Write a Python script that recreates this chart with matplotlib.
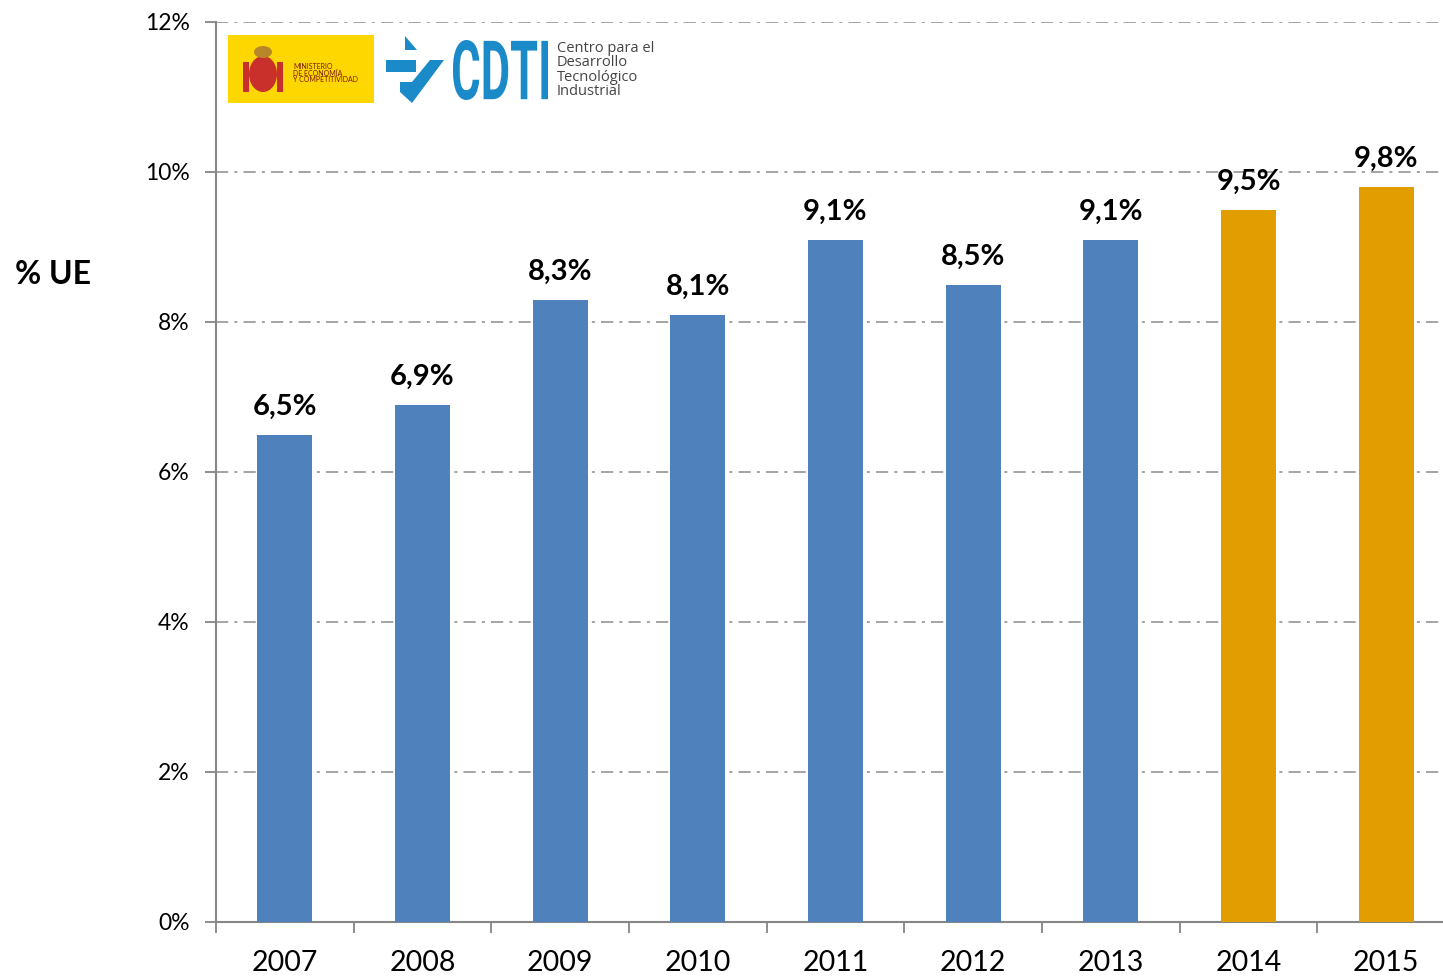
import matplotlib
matplotlib.use('Agg')
import matplotlib.pyplot as plt
from matplotlib.patches import Rectangle, Polygon, PathPatch, Ellipse
from matplotlib.textpath import TextPath
from matplotlib.font_manager import FontProperties
from matplotlib.path import Path

# %% data
years = ['2007', '2008', '2009', '2010', '2011', '2012', '2013', '2014', '2015']
values = [6.5, 6.9, 8.3, 8.1, 9.1, 8.5, 9.1, 9.5, 9.8]
labels = ['6,5%', '6,9%', '8,3%', '8,1%', '9,1%', '8,5%', '9,1%', '9,5%', '9,8%']
colors = ['#4f81bd'] * 7 + ['#e29e00'] * 2
y_ticks = [0, 2, 4, 6, 8, 10, 12]

plt.rcParams['font.family'] = ['Lato', 'DejaVu Sans']

W, H = 1443, 977
fig = plt.figure(figsize=(W / 100, H / 100), dpi=100)
ax = fig.add_axes([216 / W, 1 - 922 / H, (1455 - 216) / W, (922 - 22) / H])

x = list(range(len(years)))
ax.bar(x, values, width=0.40, color=colors, zorder=3)
for xi, v, lab in zip(x, values, labels):
    ax.text(xi, v + 0.2, lab, ha='center', va='bottom', fontsize=21,
            fontweight='bold', color='black')

ax.set_xlim(-0.5, len(years) - 0.5)
ax.set_ylim(0, 12)
ax.set_yticks(y_ticks)
ax.set_yticklabels([f'{t}%' for t in y_ticks], fontsize=16.5)
ax.yaxis.grid(True, linestyle=(0, (8, 4, 2, 4)), color='#8c8c8c', linewidth=1.1, zorder=0)

# year labels centred, ticks on category borders
ax.set_xticks([i + 0.5 for i in range(-1, len(years))])
ax.set_xticklabels([])
ax.set_xticks(x, minor=True)
ax.set_xticklabels(years, minor=True, fontsize=20.5)
ax.tick_params(axis='x', which='minor', length=0, pad=20)
ax.tick_params(axis='x', which='major', length=8, color='#868686', width=1.3, direction='out')
ax.tick_params(axis='y', length=8, color='#868686', width=1.3, direction='out', pad=11)

for s in ['top', 'right']:
    ax.spines[s].set_visible(False)
for s in ['left', 'bottom']:
    ax.spines[s].set_color('#868686')
    ax.spines[s].set_linewidth(1.5)

fig.text(15 / W, 1 - 275 / H, '% UE', fontsize=23, fontweight='bold', va='center', ha='left')


def fpt(px, py):
    # pixel (from top-left) -> figure fraction
    return (px / W, 1 - py / H)


# logo: ministerio
fig.patches.append(Rectangle(fpt(228, 103), (374 - 228) / W, (103 - 35) / H,
                             transform=fig.transFigure, facecolor='#ffd700', edgecolor='none'))
fig.patches.append(Ellipse(fpt(263, 74), 28 / W, 36 / H, transform=fig.transFigure,
                           facecolor='#c9302c', edgecolor='none'))
fig.patches.append(Rectangle(fpt(243, 92), 6 / W, 30 / H, transform=fig.transFigure,
                             facecolor='#c9302c', edgecolor='none'))
fig.patches.append(Rectangle(fpt(277, 92), 6 / W, 30 / H, transform=fig.transFigure,
                             facecolor='#c9302c', edgecolor='none'))
fig.patches.append(Ellipse(fpt(263, 52), 18 / W, 12 / H, transform=fig.transFigure,
                           facecolor='#b8862a', edgecolor='none'))
fig.text(293 / W, 1 - 73 / H, 'MINISTERIO\nDE ECONOMÍA\nY COMPETITIVIDAD', fontsize=5,
         color='#7a1a10', va='center', ha='left', linespacing=0.9)

# logo: CDTI
cdti = '#1b8ac8'
for pts in [
    [(386, 60), (416, 60), (416, 72), (386, 72)],
    [(400, 82), (412, 82), (430, 60), (444, 60), (412, 103), (400, 92)],
    [(405, 36), (417, 50), (405, 50)],
]:
    fig.patches.append(Polygon([fpt(*p) for p in pts], closed=True, transform=fig.transFigure,
                               facecolor=cdti, edgecolor='none'))

tp = TextPath((0, 0), 'CDTI', size=1, prop=FontProperties(family='Roboto', weight='bold'))
ext = tp.get_extents()
x0, x1, y0, y1 = 453, 548, 40, 100
verts = [((x0 + (vx - ext.x0) / ext.width * (x1 - x0)) / W,
          (H - y1 + (vy - ext.y0) / ext.height * (y1 - y0)) / H) for vx, vy in tp.vertices]
fig.patches.append(PathPatch(Path(verts, tp.codes), transform=fig.transFigure,
                             facecolor=cdti, edgecolor='none'))
fig.text(557 / W, 1 - 70 / H, 'Centro para el\nDesarrollo\nTecnológico\nIndustrial', fontsize=10.5,
         color='#444444', va='center', ha='left', linespacing=0.95,
         family=['Open Sans', 'DejaVu Sans'])

fig.savefig('out.png', dpi=100)
